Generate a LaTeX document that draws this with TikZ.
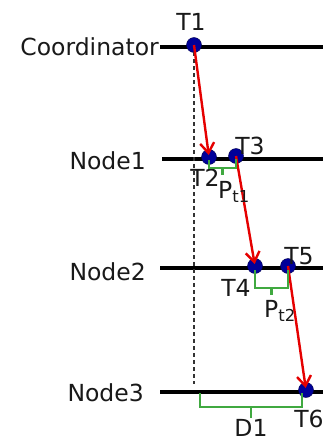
\documentclass[tikz,border=0pt]{standalone}
\usepackage{amsmath}
\usepackage{fontspec}
\setmainfont{DejaVu Sans}
\usetikzlibrary{arrows.meta, positioning, calc}

\begin{document}
\begin{tikzpicture}[
    x=1pt, y=-1pt,
    every node/.style={font=\fontsize{23.5}{25}\selectfont, inner sep=1pt, text=black!90},
    tline/.style={draw=black, line width=4pt},
    evt/.style={
        circle,
        draw=blue!30!black,
        fill=blue!60!black,
        minimum size=15pt,
        inner sep=0pt
    },
    msg/.style={-{Straight Barb[length=10pt, width=14pt, line width=2.4pt]}, red!90!black, line width=2.4pt, shorten >=2pt},
    bracket/.style={draw=green!55!black!75, line width=2.2pt},
    ref/.style={dash pattern=on 4pt off 3pt, black!80, line width=1.2pt}
]
\useasboundingbox (0,0) rectangle (323,442);

% timelines
\node[anchor=east] (coord) at (160,47) {Coordinator};
\node[anchor=east] (n1) at (147,161) {Node1};
\node[anchor=east] (n2) at (147,272) {Node2};
\node[anchor=east] (n3) at (145,393) {Node3};
\coordinate (cend) at (323,47);
\coordinate (n1end) at (323,159);
\coordinate (n2end) at (323,268);
\coordinate (n3end) at (323,392);
\draw[tline] (coord.east) -- (cend);
\draw[tline] (162,159) -- (n1end);
\draw[tline] (160,268) -- (n2end);
\draw[tline] (160,392) -- (n3end);

% events
\node[evt] (t1) at (194,45) {};
\node[evt] (t2) at (209,157) {};
\node[evt] (t3) at (236,156) {};
\node[evt] (t4) at (255,266) {};
\node[evt] (t5) at (288,266) {};
\node[evt] (t6) at (306,390) {};

\node (lt1) at (191,22) {T1};
\node (lt2) at (205,178) {T2};
\node (lt3) at (250,146) {T3};
\node (lt4) at (236,288) {T4};
\node (lt5) at (299,256) {T5};
\node (lt6) at (309,419) {T6};

% reference line
\coordinate (dtop) at (194,52);
\coordinate (dbot) at (194,384);
\draw[ref] (dtop) -- (dbot);

% messages
\draw[msg] (t1.center) -- (t2.center);
\draw[msg] (t3.center) -- (t4.center);
\draw[msg] (t5.center) -- (t6.center);

% delays
\draw[bracket] ($(t2)+(0,3)$) -- ++(0,8) -| ($(t3)+(0,3)$);
\draw[bracket] ($(t2)!0.5!(t3)+(0,11)$) -- ++(0,7);
\node (pt1) at (234,192) {$\text{P}_{\text{t1}}$};

\draw[bracket] ($(t4)+(0,4)$) -- ++(0,18) -| ($(t5)+(0,4)$);
\draw[bracket] ($(t4)!0.5!(t5)+(0,22)$) -- ++(0,7);
\node (pt2) at (280,311) {$\text{P}_{\text{t2}}$};

\draw[bracket] (200,393) -- (200,407) -| (302,393);
\draw[bracket] (251,407) -- (251,418);
\node (d1) at (251,428) {D1};

\end{tikzpicture}
\end{document}
